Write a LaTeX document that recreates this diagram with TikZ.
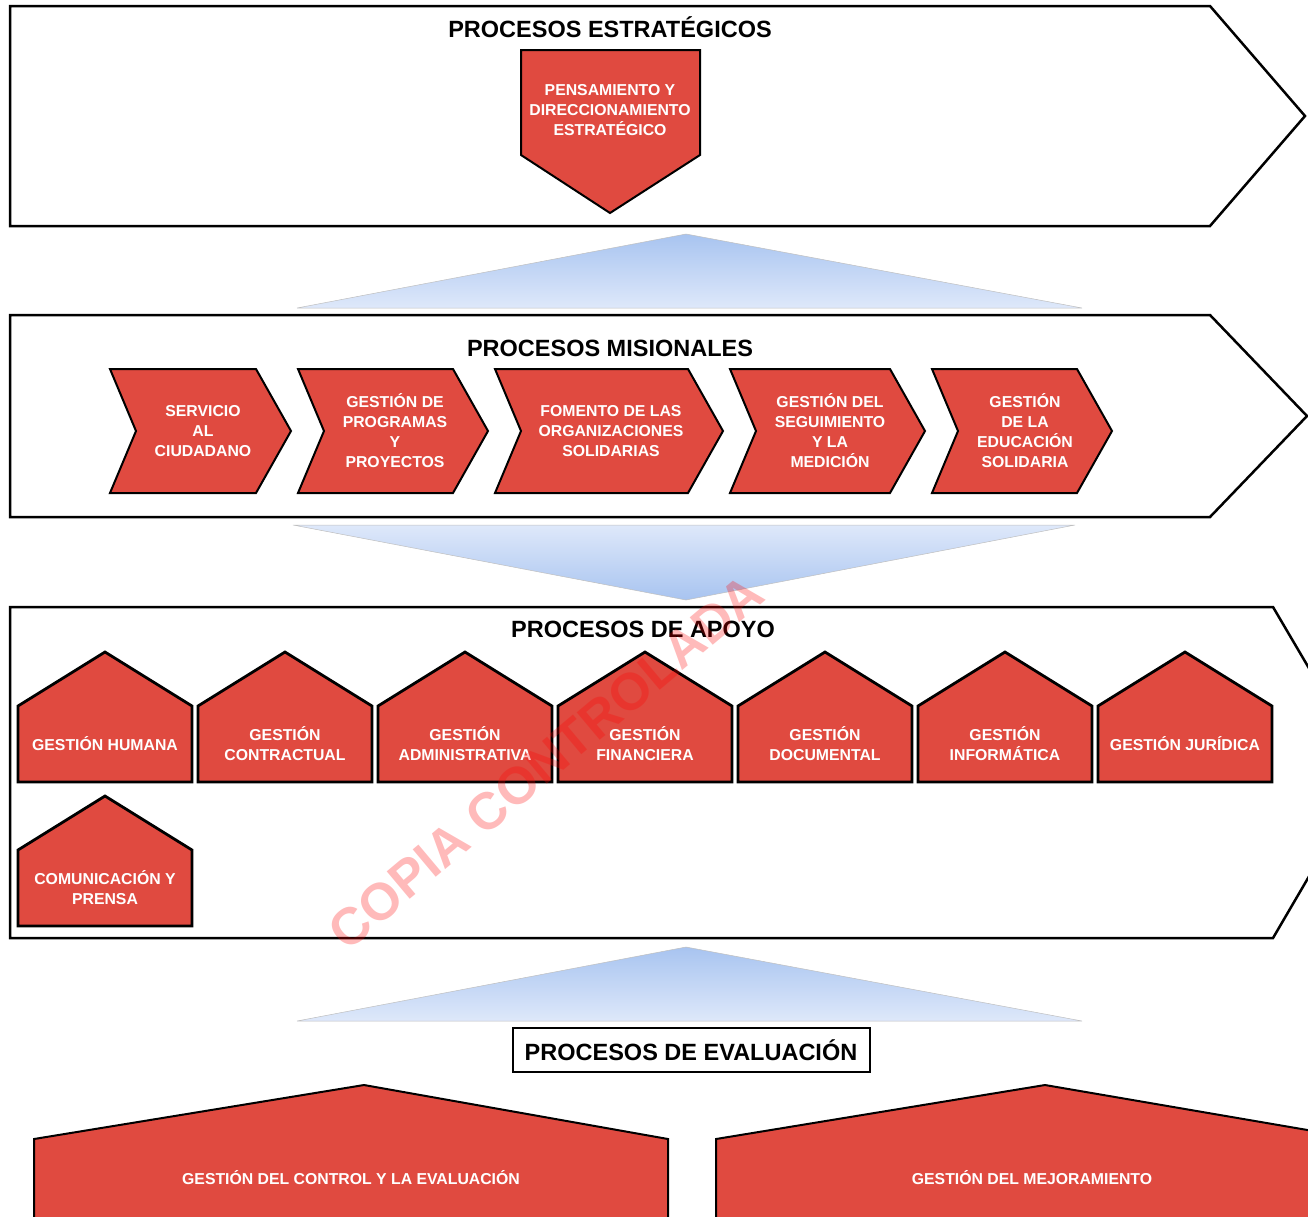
\documentclass[tikz,border=0pt]{standalone}
\usepackage{fontspec}
\setmainfont{Liberation Sans}
\usepackage{xcolor}
\usepackage{tikz}
\usetikzlibrary{calc}
\definecolor{procred}{RGB}{224,74,64}
\definecolor{flowpale}{RGB}{222,232,250}
\definecolor{flowblue}{RGB}{168,196,240}

\begin{document}
\begin{tikzpicture}[x=1pt,y=-1pt,
   band/.style={draw=black,line width=2.5pt,fill=white,line join=miter},
   chev/.style={draw=black,line width=2pt,fill=procred},
   house/.style={draw=black,line width=2.8pt,fill=procred},
   flowup/.style={top color=flowblue,bottom color=flowpale,draw=black!25,line width=0.5pt},
   flowdown/.style={top color=flowpale,bottom color=flowblue,draw=black!25,line width=0.5pt},
   title/.style={font=\bfseries\fontsize{23.5}{28}\selectfont},
   label/.style={text=white,font=\bfseries\fontsize{15.8}{20}\selectfont,align=center,inner sep=0pt},
   wmark/.style={text=red,opacity=0.27,font=\bfseries\fontsize{52}{60}\selectfont}]
\useasboundingbox (0,0) rectangle (1308,1216);
\clip (0,0) rectangle (1308,1216);
%% bands
\draw[band] (10,6) -- (1210,6) -- (1305,116) -- (1210,226) -- (10,226) -- cycle;
\draw[band] (10,315) -- (1210,315) -- (1307,416) -- (1210,517) -- (10,517) -- cycle;
\draw[band] (10,607) -- (1273,607) -- (1370,772) -- (1273,938) -- (10,938) -- cycle;
\node[title] (estrat) at (610,27) {PROCESOS ESTRATÉGICOS};
\node[title] (misio) at (610,348) {PROCESOS MISIONALES};
\node[title] (apoyo) at (643,629) {PROCESOS DE APOYO};
\node[title,draw,line width=2pt,minimum width=357,minimum height=44,inner sep=0pt] (evalua) at (691,1050) {PROCESOS DE EVALUACIÓN};
%% flows between bands
\draw[flowup] (297,308) -- (686,234) -- (1082,308) -- cycle;
\draw[flowdown] (293,525) -- (1075,525) -- (686,600) -- cycle;
\draw[flowup] (297,1021) -- (686,947) -- (1082,1021) -- cycle;
%% estrategicos
\draw[chev] (521,50) -- (700,50) -- (700,155) -- (610,213) -- (521,155) -- cycle;
\node[label] (pensa) at (610,110) {PENSAMIENTO Y\\DIRECCIONAMIENTO\\ESTRATÉGICO};
%% misionales
\foreach \xl/\xr in {110/256, 298/453, 495/688, 730/890, 932/1077}
   \draw[chev] (\xl,369) -- (\xr,369) -- (\xr+35,431) -- (\xr,493) -- (\xl,493) -- (\xl+26,431) -- cycle;
\node[label] (serv) at (203,431) {SERVICIO\\AL\\CIUDADANO};
\node[label] (progr) at (395,431) {GESTIÓN DE\\PROGRAMAS\\Y\\PROYECTOS};
\node[label] (fomen) at (611,431) {FOMENTO DE LAS\\ORGANIZACIONES\\SOLIDARIAS};
\node[label] (segui) at (830,431) {GESTIÓN DEL\\SEGUIMIENTO\\Y LA\\MEDICIÓN};
\node[label] (educa) at (1025,431) {GESTIÓN\\DE LA\\EDUCACIÓN\\SOLIDARIA};
%% apoyo
\foreach \i/\txt in {0/{GESTIÓN HUMANA}, 1/{GESTIÓN\\CONTRACTUAL}, 2/{GESTIÓN\\ADMINISTRATIVA},
      3/{GESTIÓN\\FINANCIERA}, 4/{GESTIÓN\\DOCUMENTAL}, 5/{GESTIÓN\\INFORMÁTICA}, 6/{GESTIÓN JURÍDICA}}
{
   \draw[house] (18+180*\i,782) -- (18+180*\i,706) -- (105+180*\i,652) -- (192+180*\i,706) -- (192+180*\i,782) -- cycle;
   \node[label] (apoyo\i) at (105+180*\i,744) {\txt};
}
\draw[house] (18,926) -- (18,850) -- (105,796) -- (192,850) -- (192,926) -- cycle;
\node[label] (comun) at (105,888) {COMUNICACIÓN Y\\PRENSA};
%% evaluacion
\draw[house,line width=2pt] (34,1235) -- (34,1139) -- (364,1085) -- (668,1139) -- (668,1235) -- cycle;
\draw[house,line width=2pt] (716,1235) -- (716,1139) -- (1045,1085) -- (1360,1139) -- (1360,1235) -- cycle;
\node[label] (control) at (351,1178) {GESTIÓN DEL CONTROL Y LA EVALUACIÓN};
\node[label] (mejora) at (1032,1178) {GESTIÓN DEL MEJORAMIENTO};
\node[wmark,rotate=40] (copia) at (546,762) {COPIA CONTROLADA};
\end{tikzpicture}
\end{document}
